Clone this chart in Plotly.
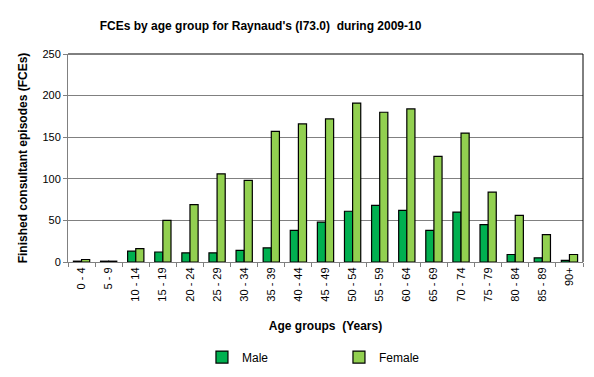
import plotly.graph_objects as go

age_groups = ["0 - 4", "5 - 9", "10 - 14", "15 - 19", "20 - 24", "25 - 29", "30 - 34",
              "35 - 39", "40 - 44", "45 - 49", "50 - 54", "55 - 59", "60 - 64", "65 - 69",
              "70 - 74", "75 - 79", "80 - 84", "85 - 89", "90+"]
male = [1, 1, 13, 12, 11, 11, 14, 17, 38, 48, 61, 68, 62, 38, 60, 45, 9, 5, 2]
female = [3, 1, 16, 50, 69, 106, 98, 157, 166, 172, 191, 180, 184, 127, 155, 84, 56, 33, 9]
y_ticks = [0, 50, 100, 150, 200, 250]

FONT = "Liberation Sans, Arial, sans-serif"

fig = go.Figure()
fig.add_trace(go.Bar(x=age_groups, y=male, name="Male",
                     marker=dict(color="#00B050", line=dict(color="black", width=1.2))))
fig.add_trace(go.Bar(x=age_groups, y=female, name="Female",
                     marker=dict(color="#92D050", line=dict(color="black", width=1.2))))

# page body has an 8px margin, so the figure is sized/offset to fit the window
fig.update_layout(
    width=586, height=369,
    margin=dict(l=60, r=11, t=46, b=115, autoexpand=False),
    paper_bgcolor="white", plot_bgcolor="white",
    font=dict(family=FONT, size=11, color="black"),
    title=dict(text="<b>FCEs by age group for Raynaud's (I73.0)  during 2009-10</b>",
               xref="container", x=0.431, xanchor="center", yref="container", y=0.952, yanchor="middle",
               font=dict(family=FONT, size=12, color="black")),
    barmode="group", bargap=0.4, bargroupgap=0.0,
    showlegend=True,
    legend=dict(orientation="h", xref="container", x=0.331, xanchor="left",
                yref="container", y=0.054, yanchor="middle",
                font=dict(family=FONT, size=12, color="black"),
                entrywidth=92, entrywidthmode="pixels", tracegroupgap=0),
    xaxis=dict(
        automargin=False,
        tickangle=-90, ticks="outside", tickson="boundaries", ticklen=4,
        tickcolor="#808080", showline=True, linecolor="#808080", linewidth=1,
        mirror=False, showgrid=False,
        title=dict(text="<b>Age groups  (Years)</b>", font=dict(family=FONT, size=12), standoff=20),
        tickfont=dict(family=FONT, size=11),
    ),
    yaxis=dict(
        automargin=False,
        range=[0, 250], tickvals=y_ticks, ticks="outside", ticklen=4, tickcolor="#808080",
        showline=True, linecolor="#808080", linewidth=1,
        showgrid=True, gridcolor="#808080", gridwidth=1, zeroline=False,
        title=dict(text="<b>Finished consultant episodes (FCEs)</b>", font=dict(family=FONT, size=12), standoff=12),
        tickfont=dict(family=FONT, size=11),
    ),
)
# top and right frame of plot area
fig.add_shape(type="line", xref="paper", yref="paper", x0=0, x1=1, y0=1, y1=1,
              line=dict(color="black", width=1))
fig.add_shape(type="line", xref="paper", yref="paper", x0=1, x1=1, y0=0, y1=1,
              line=dict(color="black", width=1))

fig.write_html("out.html")
